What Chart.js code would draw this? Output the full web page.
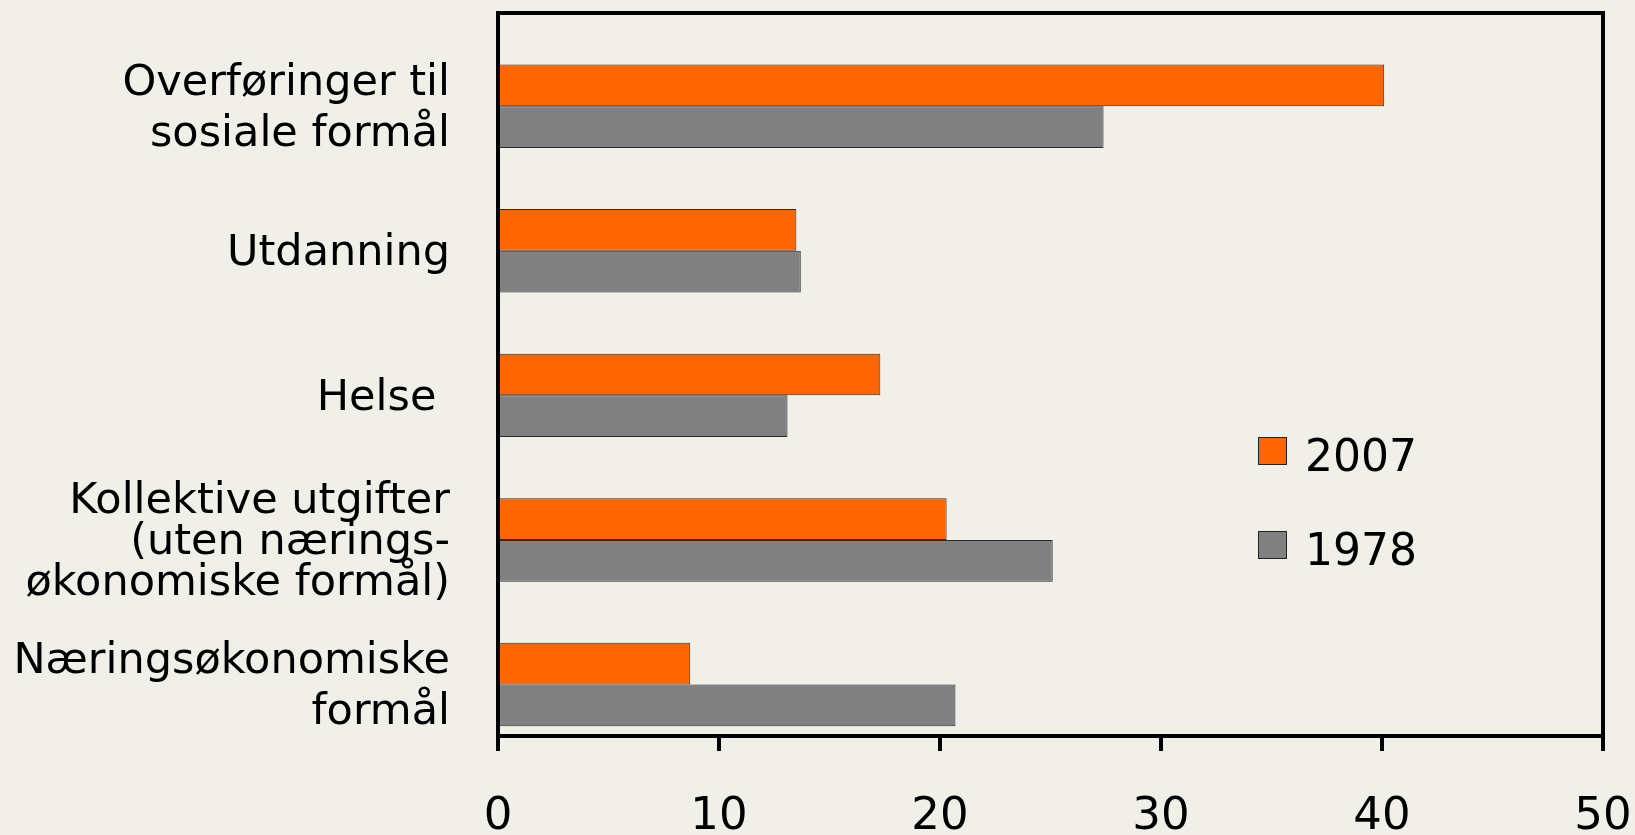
<!DOCTYPE html>
<html lang="no">
<head>
<meta charset="utf-8">
<title>Offentlige utgifter 1978 og 2007</title>
<script src="https://cdn.jsdelivr.net/npm/chart.js@4.4.1/dist/chart.umd.min.js"></script>
<style>
  html, body { margin: 0; padding: 0; background: #f0efe8; }
  #wrap { width: 1635px; height: 835px; position: relative; }
</style>
</head>
<body>
<div id="wrap"><canvas id="utgiftChart"></canvas></div>
<script>
// Kategorier, ovenfra og ned
const kategorier = [
  ['Overføringer til', 'sosiale formål'],
  'Utdanning',
  'Helse ',
  ['Kollektive utgifter', '(uten nærings-', 'økonomiske formål)'],
  ['Næringsøkonomiske', 'formål']
];
const verdier2007 = [40.1, 13.5, 17.3, 20.3, 8.7];
const verdier1978 = [27.4, 13.7, 13.1, 25.1, 20.7];
// tom serie som i originalen - holder plass over 2007-søylene
const tomSerie = [null, null, null, null, null];
const xTicks = [0, 10, 20, 30, 40, 50];

const FONT = 'DejaVu Sans';
Chart.defaults.font.family = FONT;
Chart.defaults.color = '#000';

// topp- og høyrekant på plottet
const rammePlugin = {
  id: 'ramme',
  afterDraw(chart) {
    const { ctx, chartArea: a } = chart;
    ctx.save();
    ctx.strokeStyle = '#000';
    ctx.lineWidth = 4;
    ctx.lineJoin = 'miter';
    ctx.beginPath();
    ctx.moveTo(a.left - 2, a.top);
    ctx.lineTo(a.right, a.top);
    ctx.lineTo(a.right, a.bottom);
    ctx.stroke();
    ctx.restore();
  }
};

// forklaring inne i plottet
const forklaringPlugin = {
  id: 'forklaring',
  afterDraw(chart) {
    const { ctx, chartArea: a } = chart;
    const x0 = a.right - 345;
    let y = a.top + 424;
    ctx.save();
    chart.data.datasets.forEach(ds => {
      if (!ds.label) return;
      ctx.fillStyle = ds.backgroundColor;
      ctx.fillRect(x0, y, 29, 28);
      ctx.strokeStyle = '#222';
      ctx.lineWidth = 1;
      ctx.strokeRect(x0 + 0.5, y + 0.5, 28, 27);
      ctx.fillStyle = '#000';
      ctx.font = '44px "' + FONT + '"';
      ctx.textBaseline = 'alphabetic';
      ctx.textAlign = 'left';
      ctx.fillText(ds.label, x0 + 47, y + 34);
      y += 94;
    });
    ctx.restore();
  }
};

const ctx = document.getElementById('utgiftChart');
new Chart(ctx, {
  type: 'bar',
  data: {
    labels: kategorier,
    datasets: [
      { label: '', data: tomSerie, backgroundColor: 'rgba(0,0,0,0)', borderWidth: 0 },
      { label: '2007', data: verdier2007, backgroundColor: '#ff6600', borderColor: '#2a2a2a', borderWidth: 1 },
      { label: '1978', data: verdier1978, backgroundColor: '#808080', borderColor: '#2a2a2a', borderWidth: 1 }
    ]
  },
  options: {
    indexAxis: 'y',
    responsive: true,
    maintainAspectRatio: false,
    animation: false,
    categoryPercentage: 0.866,
    barPercentage: 1,
    layout: { padding: { top: 13, right: 32, bottom: 0, left: 0 } },
    plugins: {
      legend: { display: false },
      tooltip: { enabled: false }
    },
    scales: {
      x: {
        type: 'linear',
        min: 0,
        max: 50,
        afterBuildTicks: scale => { scale.ticks = xTicks.map(v => ({ value: v })); },
        afterFit: scale => {
          scale.height = 99;
          scale.paddingLeft = 0;
          scale.paddingRight = 0;
        },
        grid: { drawOnChartArea: false, drawTicks: true, tickLength: 15, lineWidth: 4, color: '#000' },
        border: { display: true, width: 4, color: '#000' },
        ticks: { color: '#000', font: { size: 45 }, padding: 39, maxRotation: 0 }
      },
      y: {
        grid: { display: false },
        border: { display: true, width: 4, color: '#000' },
        ticks: {
          color: '#000',
          padding: 40,
          labelOffset: 24,
          font: c => {
            const lab = kategorier[c.index];
            const n = Array.isArray(lab) ? lab.length : 1;
            return { size: 43, lineHeight: n === 3 ? 41 / 43 : 51 / 43 };
          }
        },
        afterFit: scale => {
          scale.width = 498;
          scale.paddingTop = 0;
          scale.paddingBottom = 0;
        }
      }
    }
  },
  plugins: [rammePlugin, forklaringPlugin]
});
</script>
</body>
</html>
